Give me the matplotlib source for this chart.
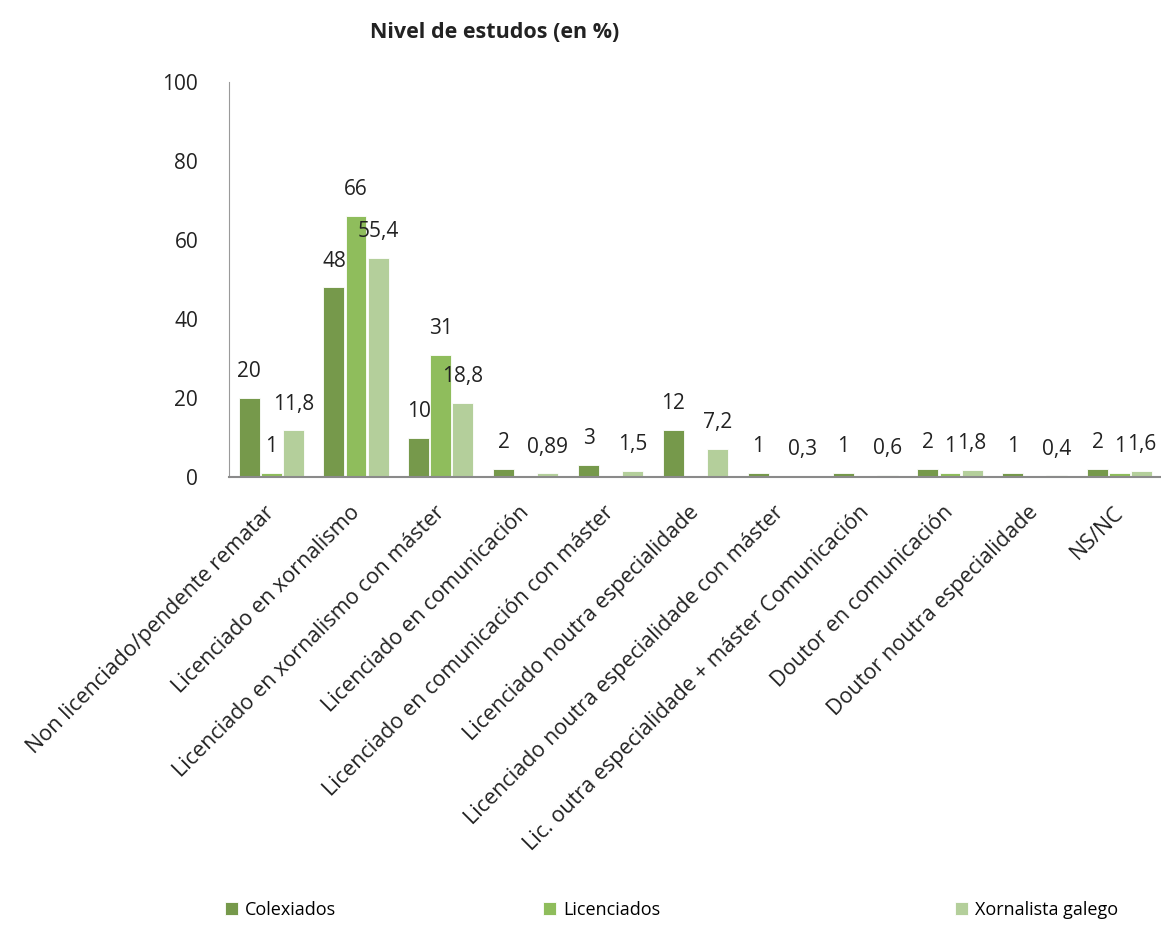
import numpy as np
from matplotlib import pyplot
from matplotlib.transforms import ScaledTranslation

categories = [
    "Non licenciado/pendente rematar",
    "Licenciado en xornalismo",
    "Licenciado en xornalismo con máster",
    "Licenciado en comunicación",
    "Licenciado en comunicación con máster",
    "Licenciado noutra especialidade",
    "Licenciado noutra especialidade con máster",
    "Lic. outra especialidade + máster Comunicación",
    "Doutor en comunicación",
    "Doutor noutra especialidade",
    "NS/NC",
]
series_names = ["Colexiados", "Licenciados", "Xornalista galego"]
colexiados = [20, 48, 10, 2, 3, 12, 1, 1, 2, 1, 2]
licenciados = [1, 66, 31, np.nan, np.nan, np.nan, np.nan, np.nan, 1, np.nan, 1]
xornalista = [11.8, 55.4, 18.8, 0.89, 1.5, 7.2, 0.3, 0.6, 1.8, 0.4, 1.6]
colors = ["#76994b", "#8fbd5c", "#b4cf9b"]

pyplot.rcParams["font.family"] = ["Open Sans", "DejaVu Sans"]

fig = pyplot.figure(figsize=(11.61, 9.47), dpi=100)
ax = fig.add_axes([0.197, 0.4963, 0.804, 0.4171])

x = np.arange(len(categories))
w = 0.26
handles = []
for i, (vals, name, col) in enumerate(zip([colexiados, licenciados, xornalista], series_names, colors)):
    pos = x + (i - 1) * w
    h = ax.bar(pos, vals, width=w * 0.95, color=col, label=name, edgecolor="white", linewidth=0.6)
    handles.append(h)
    for p, v in zip(pos, vals):
        if np.isnan(v):
            continue
        txt = f"{v:g}".replace(".", ",")
        ax.annotate(txt, (p, v), xytext=(0, 19), textcoords="offset points",
                    ha="center", va="center", fontsize=15, color="#222222")

ax.set_xlim(-0.5, len(categories) - 0.5)
ax.set_ylim(0, 100)
ax.set_yticks([0, 20, 40, 60, 80, 100])
ax.tick_params(axis="y", length=0, pad=22, labelsize=15, labelcolor="#222222")
ax.tick_params(axis="x", length=0, pad=18)
ax.set_xticks(x)
ax.set_xticklabels(categories, rotation=45, ha="right", rotation_mode="anchor",
                   fontsize=15.5, color="#222222")
shift = ScaledTranslation(-7 / 100, 0, fig.dpi_scale_trans)
for lab in ax.get_xticklabels():
    lab.set_transform(lab.get_transform() + shift)
for s in ["top", "right"]:
    ax.spines[s].set_visible(False)
ax.spines["left"].set_color("#9a9a9a")
ax.spines["bottom"].set_color("#8a8a8a")
ax.spines["bottom"].set_linewidth(1.5)

fig.text(0.426, 0.966, "Nivel de estudos (en %)", ha="center", va="center",
         fontsize=15.5, fontweight="bold", color="#222222")

# legend entries sit at uneven spots, so one small legend each
for h, name, lx in zip(handles, series_names, [225, 543, 955]):
    fig.legend([h], [name], loc="center left", bbox_to_anchor=(lx / 1161, 0.039),
               frameon=False, fontsize=13, handlelength=0.7, handleheight=0.7,
               handletextpad=0.4, borderpad=0, borderaxespad=0)

pyplot.savefig("out.png")
